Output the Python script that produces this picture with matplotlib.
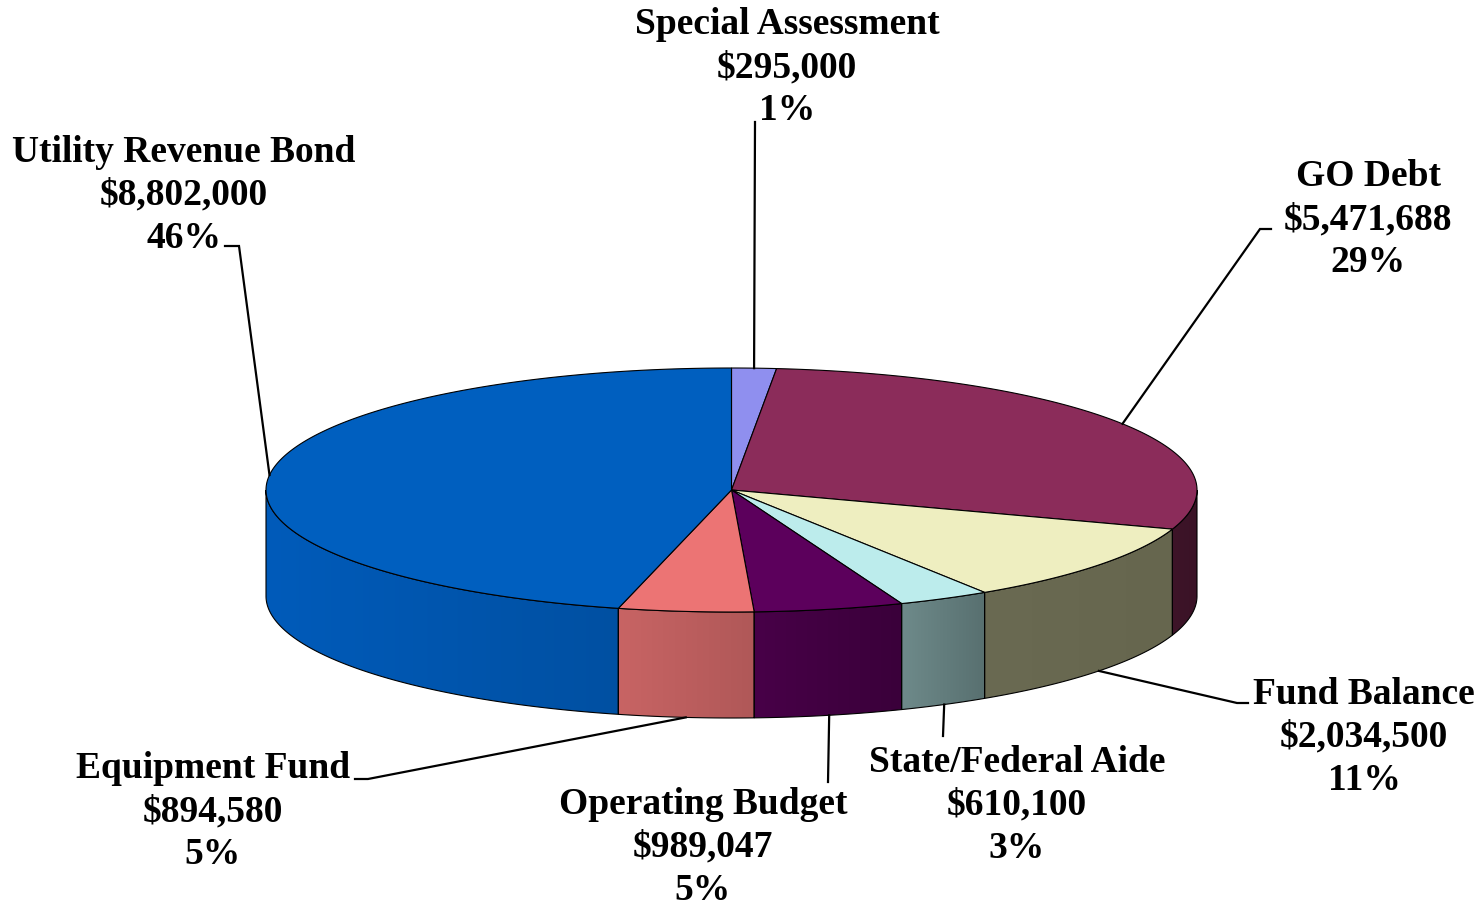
import numpy as np
import matplotlib.pyplot as plt
from matplotlib.patches import Polygon
from matplotlib.colors import LinearSegmentedColormap

# capital funding sources, clockwise from 12 o'clock
names = ["Special Assessment", "GO Debt", "Fund Balance", "State/Federal Aide",
         "Operating Budget", "Equipment Fund", "Utility Revenue Bond"]
amounts = [295000, 5471688, 2034500, 610100, 989047, 894580, 8802000]
pct_labels = ["1%", "29%", "11%", "3%", "5%", "5%", "46%"]

top_colors = ["#8F8FEF", "#8B2C5A", "#EEEEC0", "#BCECEC", "#5C005C", "#EC7474", "#005FBF"]
side_colors = [("#7070C0", "#6060B0"), ("#3E1529", "#3A1226"), ("#6A6A52", "#66664E"),
               ("#6E8A8A", "#587070"), ("#480048", "#3A003A"), ("#C86464", "#B05858"),
               ("#005BBA", "#0050A2")]

# label block: centre x, y of middle line
label_pos = [(787, 68), (1368, 220), (1364, 737), (1017, 805), (703, 847), (213, 812), (184, 195)]
# leader start (next to the text) and elbow
leader_start = [[(755, 122)], [(1271, 229), (1260, 229)], [(1248, 703), (1237, 703)],
                [(943, 736)], [(828, 782)], [(355, 779), (368, 779)], [(225, 246), (239, 246)]]

W, H = 1484, 906
cx, cy = 731.5, 490
rx, ry = 465.5, 122
depth = 106


def rim(theta, drop=0.0):
    # point on the ellipse, theta in degrees clockwise from the top
    t = np.radians(theta)
    return cx + rx * np.sin(t), cy - ry * np.cos(t) + drop


fig = plt.figure(figsize=(W / 100, H / 100), dpi=100)
ax = fig.add_axes([0, 0, 1, 1])
ax.set_xlim(0, W)
ax.set_ylim(H, 0)
ax.axis("off")

vals = np.array(amounts, dtype=float)
bounds = np.concatenate([[0], np.cumsum(vals) / vals.sum() * 360])

# side walls on the front half (90..270 degrees), shaded left to right
for i in range(len(vals)):
    a0, a1 = max(bounds[i], 90), min(bounds[i + 1], 270)
    if a1 <= a0:
        continue
    th = np.linspace(a0, a1, 200)
    xt, yt = rim(th)
    xb, yb = rim(th[::-1], depth)
    pts = np.column_stack([np.concatenate([xt, xb]), np.concatenate([yt, yb])])
    poly = Polygon(pts, closed=True, facecolor="none", edgecolor="black", lw=0.8, zorder=3)
    ax.add_patch(poly)
    cmap = LinearSegmentedColormap.from_list("wall%d" % i, side_colors[i])
    grad = np.linspace(0, 1, 256).reshape(1, -1)
    im = ax.imshow(grad, cmap=cmap,
                   extent=[pts[:, 0].min(), pts[:, 0].max(), pts[:, 1].max(), pts[:, 1].min()],
                   aspect="auto", zorder=2, interpolation="bilinear")
    im.set_clip_path(poly)

# top face wedges
for i in range(len(vals)):
    th = np.linspace(bounds[i], bounds[i + 1], max(int((bounds[i + 1] - bounds[i]) * 2), 4))
    xs, ys = rim(th)
    pts = np.column_stack([np.concatenate([[cx], xs]), np.concatenate([[cy], ys])])
    ax.add_patch(Polygon(pts, closed=True, facecolor=top_colors[i], edgecolor="black",
                         lw=0.8, zorder=4, joinstyle="miter"))

# labels and leader lines
font = dict(family="Liberation Serif", fontweight="bold", fontsize=27, color="black")
for i in range(len(vals)):
    mid = (bounds[i] + bounds[i + 1]) / 2
    drop = depth if 90 < mid < 270 else 0
    ax_x, ax_y = rim(mid, drop)
    path = leader_start[i] + [(ax_x, ax_y)]
    ax.plot([p[0] for p in path], [p[1] for p in path], color="black", lw=1.6,
            zorder=5, solid_joinstyle="miter")
    lx, ly = label_pos[i]
    lines = [names[i], "${:,}".format(amounts[i]), pct_labels[i]]
    for k, s in enumerate(lines):
        ax.text(lx, ly + (k - 1) * 43, s, ha="center", va="center", zorder=6, **font)

fig.savefig("out.png", dpi=100, facecolor="white")
